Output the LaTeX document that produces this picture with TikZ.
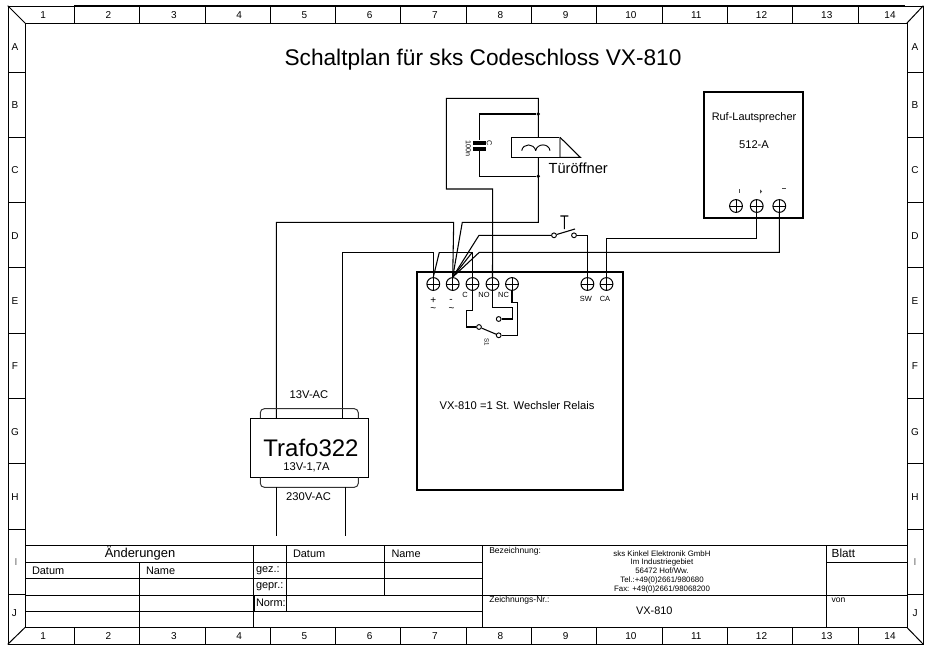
\documentclass[tikz,border=0pt]{standalone}
\usepackage{fontspec}
\setmainfont{Liberation Sans}
\newcommand{\fsz}[1]{\fontsize{#1pt}{#1pt}\selectfont}
\tikzset{
 line/.style={line width=0.75pt,line cap=rect,line join=miter},
 wire/.style={line width=0.8pt,line join=miter},
 heavy/.style={line width=1.7pt,line join=miter},
 txt/.style={inner sep=0pt,outer sep=0pt,text=black},
 left txt/.style={txt,anchor=west},
 contact/.style={circle,draw,fill=white,line width=0.7pt,inner sep=0pt,minimum size=3.6pt},
 term/.style={circle,draw,line width=0.75pt,inner sep=0pt,minimum size=9.6pt,
   path picture={\draw[line width=0.7pt] (path picture bounding box.north) -- (path picture bounding box.south)
     (path picture bounding box.west) -- (path picture bounding box.east);}},
 dot/.style={circle,fill,inner sep=0pt,minimum size=2.8pt},
 small/.style={txt,font=\fsz{5.6}},
 ruler/.style={txt,font=\fsz{7.5},text height=5.4pt,text depth=0pt},
}
\begin{document}
\begin{tikzpicture}[x=0.75pt,y=-0.75pt]
\useasboundingbox (0,0) rectangle (950,668);
% frame
\draw[line] (8,6) rectangle (923,644);
\draw[line] (25,23) rectangle (907,627.5);
\draw[line width=1.3pt] (74.4,6) -- (905,6);
\draw[line] (8,6) -- (25,23) (923,6) -- (907,23) (8,644) -- (25,627.5) (923,644) -- (907,627.5);
\foreach \i in {0,...,12} {
  \pgfmathsetmacro{\xx}{74.4+65.3*\i}
  \draw[line] (\xx,6) -- (\xx,23) (\xx,627.5) -- (\xx,644);
}
\foreach \i in {1,...,13} {
  \pgfmathsetmacro{\xx}{43.2+65.3*(\i-1)}
  \node[ruler] (top\i) at (\xx,14.5) {\i};
  \node[ruler] (bot\i) at (\xx,635.5) {\i};
}
\node[ruler] (top14) at (890,14.5) {14};
\node[ruler] (bot14) at (890,635.5) {14};
\node[ruler] (laA) at (15,47) {A};
\node[ruler] (raA) at (915,47) {A};
\foreach \l [count=\i from 0] in {B,C,D,E,F,G,H} {
  \pgfmathsetmacro{\yy}{105+65.3*\i}
  \node[ruler] (la\l) at (15,\yy) {\l};
  \node[ruler] (ra\l) at (915,\yy) {\l};
}
\foreach \i in {0,...,8} {
  \pgfmathsetmacro{\yy}{72+65.3*\i}
  \draw[line] (8,\yy) -- (25,\yy) (907,\yy) -- (923,\yy);
}
\node[ruler,text=black!60] (laI) at (16,562) {I};
\node[ruler,text=black!60] (raI) at (915,562) {I};
\node[ruler] (laJ) at (14.5,613) {J};
\node[ruler] (raJ) at (915,613) {J};
% title block
\draw[line] (25,545) -- (907,545)
 (25,562.7) -- (482,562.7) (826,562.7) -- (907,562.7)
 (25,578) -- (482,578)
 (25,595) -- (907,595)
 (25,611) -- (482,611)
 (139.5,562.7) -- (139.5,627.5)
 (253.7,545) -- (253.7,627.5)
 (286.7,545) -- (286.7,611)
 (384.7,545) -- (384.7,595)
 (482,545) -- (482,627.5)
 (826,545) -- (826,627.5);
\draw[line width=1.3pt] (254,595) -- (254,611);
\node[txt,font=\fsz{9.7}] (aend) at (140,553.5) {Änderungen};
\node[left txt,font=\fsz{8.2}] (d1) at (32,570.5) {Datum};
\node[left txt,font=\fsz{8.2}] (n1) at (146,570.5) {Name};
\node[left txt,font=\fsz{8.2}] (gez) at (256,571) {gez.:};
\node[left txt,font=\fsz{8.2}] (gepr) at (256,587) {gepr.:};
\node[left txt,font=\fsz{8.2}] (norm) at (256,603) {Norm:};
\node[left txt,font=\fsz{8.2}] (d2) at (293,554) {Datum};
\node[left txt,font=\fsz{8.2}] (n2) at (391.5,554) {Name};
\node[left txt,font=\fsz{6.4}] (bez) at (489.3,551) {Bezeichnung:};
\node[txt,font=\fsz{5.9}] (f1) at (662,553.5) {sks Kinkel Elektronik GmbH};
\node[txt,font=\fsz{5.9}] (f2) at (662,562.5) {Im Industriegebiet};
\node[txt,font=\fsz{5.9}] (f3) at (662,571) {56472 Hof/Ww.};
\node[txt,font=\fsz{5.9}] (f4) at (662,580) {Tel.:+49(0)2661/980680};
\node[txt,font=\fsz{5.9}] (f5) at (662,589) {Fax: +49(0)2661/98068200};
\node[left txt,font=\fsz{6.4}] (zn) at (489.3,600) {Zeichnungs-Nr.:};
\node[txt,font=\fsz{8.2}] (zv) at (654.3,611) {VX-810};
\node[left txt,font=\fsz{8.8}] (blatt) at (831.7,553) {Blatt};
\node[left txt,font=\fsz{6.4}] (von) at (831.7,600.5) {von};
% heading
\node[txt,font=\fsz{17}] (title) at (483,59.5) {Schaltplan für sks Codeschloss VX-810};
% controller box
\node[draw,heavy,inner sep=0pt,minimum width=154.5pt,minimum height=163.5pt] (box) at (519.7,381) {};
\node[txt,font=\fsz{8.4}] (boxt) at (517,405) {VX-810 =1 St. Wechsler Relais};
\node[term] (t1) at (433.3,284) {};
\node[term] (t2) at (452.7,284) {};
\node[term] (t3) at (472.5,284) {};
\node[term] (t4) at (492.5,284) {};
\node[term] (t5) at (512,284) {};
\node[term] (t6) at (587.4,284) {};
\node[term] (t7) at (606.5,284) {};
\node[small,font=\fsz{7.5}] (p1) at (433.3,300.5) {+};
\node[small,font=\fsz{7.5}] (p2) at (433.3,310) {\~{}};
\node[small,font=\fsz{7.5}] (m1) at (451,300.5) {-};
\node[small,font=\fsz{7.5}] (m2) at (451.5,310) {\~{}};
\node[small] (lc) at (465,295) {C};
\node[small] (lno) at (484,295) {NO};
\node[small] (lnc) at (503.5,295) {NC};
\node[small] (lsw) at (586,298.5) {SW};
\node[small] (lca) at (605,298.5) {CA};
\node[small,rotate=-90,font=\fsz{4.6}] (ls1) at (486.7,342.5) {S1};
% relay
\node[contact] (ra) at (479,327) {};
\node[contact] (rb) at (498.7,335.3) {};
\node[contact] (rc) at (498.7,319) {};
\draw[wire] (t3.south) |- (466.7,310.7) |- (ra.west);
\draw[wire] (ra) -- (rb);
\draw[wire] (rb.east) -- (517.3,335.3) -- (517.3,302.7) -- (512,302.7) -- (t5.south);
\draw[wire] (t4.south) |- (512.3,307.3) |- (rc.east);
% door opener
\node[draw,line width=0.8pt,inner sep=0pt,minimum width=36.7pt,minimum height=15pt] (coil) at (535.65,147.3) {};
\draw[black!45,line width=1.1pt] (560,137.3) -- (560,157.3);
\draw[wire] (560,137.3) -- (580.3,157.3) -- (560,157.3);
\draw[line width=0.7pt] (521.7,150.7) .. controls (523,143) and (534,143) .. (535.7,150.7)
  (535.7,150.7) .. controls (537,143) and (549,143) .. (550,150.7);
\node[txt,font=\fsz{11}] (tueroeffner) at (578.2,168.7) {Türöffner};
\coordinate (j1) at (538.3,114);
\coordinate (j2) at (538.3,176.3);
\node[dot] (d1j) at (j1) {};
\node[dot] (d2j) at (j2) {};
% capacitor
\node[fill,inner sep=0pt,minimum width=10.2pt,minimum height=3pt] (cap1) at (479.3,142.5) {};
\node[fill,inner sep=0pt,minimum width=10.2pt,minimum height=3pt] (cap2) at (479.3,149) {};
\node[small,rotate=-90,font=\fsz{5.4}] (capc) at (489.3,143.5) {C};
\node[small,rotate=-90,font=\fsz{5.4}] (capv) at (468.3,148.5) {100n};
\draw[wire] (t4.north) -- (492.7,189) -- (446.3,189) -- (446.3,98.3) -- (538.3,98.3) -- (coil.north -| 538.3,0);
\draw[wire] (d1j) -| (cap1.north);
\draw[wire] (cap2.south) |- (d2j);
\draw[wire] (coil.south -| 538.3,0) -- (538.3,222.3) -- (462.3,222.3) -- (t2.north);
\draw[wire] (276.3,418.3) -- (276.3,222.3) -- (453.7,222.3) -- (t2.north);
% push switch
\node[contact] (s1) at (554,235.3) {};
\node[contact] (s2) at (574,235.3) {};
\draw[wire] (s1) -- (575,229) (564.3,229) -- (564.3,216) (560.3,216) -- (568.3,216);
\draw[wire] (t2.north) -- (479,235.3) -- (s1.west);
\draw[wire] (s2.east) -- (587.4,235.3) -- (t6.north);
% speaker
\node[draw,heavy,inner sep=0pt,minimum width=73.8pt,minimum height=94.7pt] (spk) at (753.5,154.9) {};
\node[txt,font=\fsz{8.2}] (spk1) at (754,117.5) {Ruf-Lautsprecher};
\node[txt,font=\fsz{8.4}] (spk2) at (754,145) {512-A};
\node[term] (s3) at (736,206) {};
\node[term] (s4) at (756.7,206) {};
\node[term] (s5) at (779.3,206) {};
\draw[line width=0.5pt,black!70] (739,189) -- (739,193) (782,188.5) -- (786,188.5);
\fill[black!70] (760,189.5) -- (762,191.5) -- (760,193.5) -- cycle;
\draw[wire] (t7.north) -- (606.5,238.7) -- (756.7,238.7) -- (s4.south);
\draw[wire] (s5.south) -- (779.3,252.3) -- (479.3,252.3) -- (t2.north);
\draw[wire] (472.3,252.3) -- (t2.north);
\draw[wire] (439.3,252.3) -- (472.5,252.3) -- (t3.north);
\draw[wire] (439.3,252.3) -- (t1.north);
\draw[wire] (342.3,418.3) -- (342.3,252.3) -- (433.3,252.3) -- (t1.north);
% transformer
\node[draw,line width=0.8pt,inner sep=0pt,minimum width=88.2pt,minimum height=44.2pt] (trafo) at (309.5,447.8) {};
\draw[line width=0.75pt,rounded corners=3pt,black!80] (260.3,418.3) -- (260.3,408.7) -- (358.3,408.7) -- (358.3,418.3);
\draw[line width=0.75pt,rounded corners=3pt,black!80] (260.3,477.3) -- (260.3,487.3) -- (358.3,487.3) -- (358.3,477.3);
\node[txt,font=\fsz{18}] (tn) at (311,448) {Trafo322};
\node[txt,font=\fsz{8.4}] (t13a) at (306.5,467) {13V-1,7A};
\node[txt,font=\fsz{8.4}] (t13) at (309,395) {13V-AC};
\node[txt,font=\fsz{8.4}] (t230) at (308.6,496.5) {230V-AC};
\coordinate (m1e) at (276.3,536);
\coordinate (m2e) at (345.3,536);
\draw[wire] (276.3,487.3) -- (m1e);
\draw[wire] (345.3,487.3) -- (m2e);
\end{tikzpicture}
\end{document}
